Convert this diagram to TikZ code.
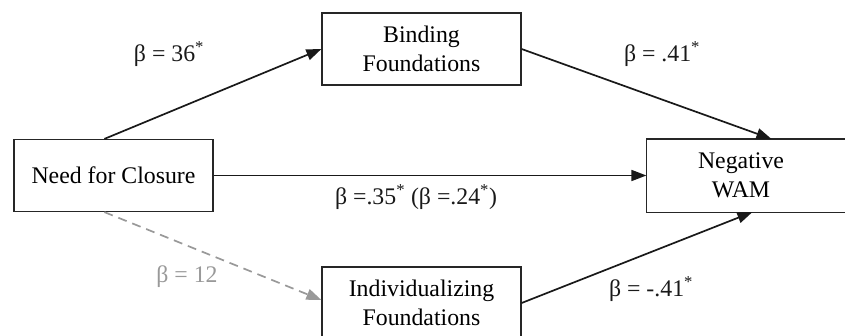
\documentclass[tikz,border=0pt]{standalone}
\usepackage{fontspec}
\setmainfont{Liberation Serif}
\usetikzlibrary{arrows.meta,calc}
\begin{document}
\begin{tikzpicture}[x=1pt,y=-1pt,
  font=\fontsize{23.8}{29.5}\selectfont,
  boxline/.style={draw=black!85, line width=1.2pt},
  var/.style={boxline, inner sep=0pt, align=center,
              minimum width=199pt, minimum height=72pt},
  path/.style={draw=black!90, line width=1.7pt, -{Triangle[length=15pt,width=11pt]}},
  nspath/.style={draw=black!40, line width=1.7pt, dash pattern=on 9pt off 6pt,
                 -{Triangle[length=15pt,width=11pt]}},
  lab/.style={inner sep=0pt, text=black!90},
  nslab/.style={inner sep=0pt, text=black!40}]
\clip (0,0) rectangle (845,335);
\useasboundingbox (0,0) rectangle (845,335);
\node[var] (nfc) at (113.5,175.5) {Need for Closure};
\node[var] (bind) at (421.5,49) {Binding\\Foundations};
\node[var, draw=none, minimum width=188pt] (wam) at (741,175.5) {Negative\\WAM};
\draw[boxline] (wam.north west) rectangle ($(wam.south east)+(14,0)$);
\node[var] (ind) at (421.5,303) {Individualizing\\Foundations};
\draw[path] ($(nfc.north west)+(91,0)$) -- (bind.west);
\draw[path] (nfc.east) -- (wam.west);
\draw[path] (bind.east) -- ($(wam.north west)+(125,0)$);
\draw[path] (ind.east) -- ($(wam.south west)+(106,0)$);
\draw[nspath] ($(nfc.south west)+(91,0)$) -- ($(ind.west)+(0,-3)$);
\node[lab] (l1) at (169,54) {β = 36\textsuperscript{*}};
\node[lab] (l2) at (662,54) {β = .41\textsuperscript{*}};
\node[lab] (l3) at (416,197) {β =.35\textsuperscript{*} (β =.24\textsuperscript{*})};
\node[nslab] (l4) at (187,277) {β = 12};
\node[lab] (l5) at (651,289) {β = -.41\textsuperscript{*}};
\end{tikzpicture}
\end{document}
